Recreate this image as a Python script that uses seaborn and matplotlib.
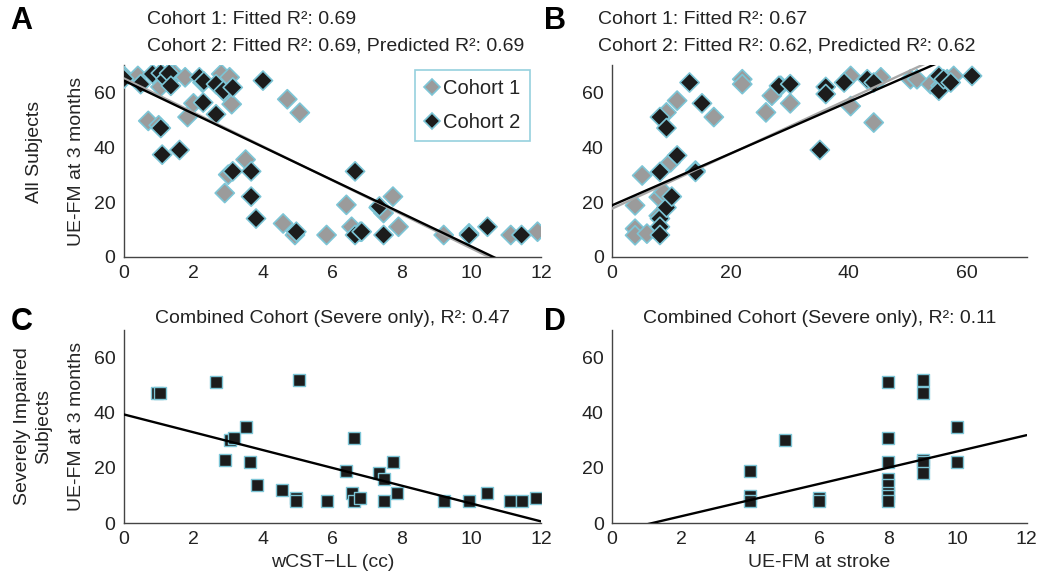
import numpy as np
import pandas as pd
import seaborn as sns
import matplotlib.pyplot as plt

# Panel A: wCST-LL (cc) vs UE-FM at 3 months, all subjects
a_c1_x = [0.0, 0.4, 0.7, 1.0, 1.05, 1.35, 1.45, 1.76, 1.83, 2.0, 2.26, 2.8, 2.9, 3.04, 3.1,
          3.0, 2.9, 3.5, 4.7, 5.06, 4.58, 4.92, 5.83, 6.4, 6.55, 6.8, 7.33, 7.47, 7.74, 7.9,
          9.2, 9.93, 11.13, 11.9]
a_c1_y = [66, 66, 49.6, 48, 62, 65, 66.7, 65.5, 51, 56, 63.6, 66.7, 60, 65.5, 55.7,
          30, 23.3, 35.5, 57.5, 52.6, 12.2, 8, 8, 19, 11, 9.2, 18, 16, 22, 11,
          8, 8.6, 8, 9.2]
a_c2_x = [0.0, 0.48, 0.82, 1.06, 1.2, 1.3, 1.35, 1.06, 1.1, 1.6, 2.17, 2.3, 2.28, 2.65, 2.65,
          2.86, 3.13, 3.13, 3.66, 3.66, 3.8, 4.0, 4.96, 6.65, 6.65, 6.84, 7.35, 7.47, 9.93,
          10.46, 11.44]
a_c2_y = [65, 63, 66.7, 67, 65, 67, 62.4, 47, 37.3, 39, 65.5, 64, 56.3, 52, 63,
          60.6, 61.8, 31.2, 31.2, 22, 14, 64.3, 9.2, 31.2, 8, 9.2, 18.4, 8, 8,
          11, 8]

# Panel B: UE-FM at stroke vs UE-FM at 3 months, all subjects
b_c1_x = [3.9, 3.9, 3.9, 5.1, 5.9, 7.9, 7.9, 8.7, 9.2, 9.9, 11, 14.1, 17.2, 22, 22,
          26, 27, 28.5, 30.1, 40.3, 40.3, 44.2, 45.4, 50.4, 51.5, 53.8, 56.6, 57.7, 55.5]
b_c1_y = [18.8, 10.3, 7.9, 29.7, 8.5, 15, 21.8, 23.6, 52.7, 34.5, 57, 31.5, 51, 64.8, 63,
          52.7, 58.8, 62.4, 56, 66, 55, 49, 65.5, 64.8, 64.8, 63, 64.8, 66, 62.4]
b_c2_x = [8.1, 8.1, 8.1, 8.1, 8.1, 9.2, 9.2, 10.1, 11, 13.1, 14.1, 15.2, 28.2, 30.1,
          35.1, 36.1, 36.1, 39.2, 43.1, 44.2, 55.2, 55.2, 56, 57.2, 60.8]
b_c2_y = [51, 31, 14, 11, 8, 47, 18, 22, 37, 63.6, 31, 56, 62.4, 63,
          39, 62, 59.4, 63.6, 64.8, 63.6, 66, 60.6, 64.8, 63.6, 66]

# Panel C: severe only, wCST-LL
c_x = [0.96, 1.04, 2.65, 5.04, 2.92, 3.04, 3.16, 3.5, 3.63, 3.83, 4.56, 4.94, 4.94, 5.83,
       6.39, 6.55, 6.62, 6.62, 6.8, 7.35, 7.47, 7.47, 7.74, 7.87, 9.2, 9.93, 10.46, 11.1,
       11.44, 11.86]
c_y = [47, 47, 51, 52, 23, 30, 31, 35, 22, 14, 12, 9, 8, 8,
       19, 11, 31, 8, 9, 18, 16, 8, 22, 11, 8, 8, 11, 8, 8, 9]

# Panel D: severe only, UE-FM at stroke
d_x = [4, 4, 4, 5, 6, 6, 8, 8, 8, 8, 8, 8, 8, 8, 9, 9, 9, 9, 9, 10, 10]
d_y = [19, 10, 8, 30, 9, 8, 51, 31, 22, 16, 14, 11, 10, 8, 52, 47, 23, 22, 18, 35, 22]

# fitted lines (intercept, slope)
fit_a = {'Cohort 1': (65.1, -6.2), 'Cohort 2': (64.3, -6.05)}
fit_b = {'Cohort 1': (17.6, 1.0), 'Cohort 2': (18.8, 0.944)}
fit_c = (39.4, -3.23)
fit_d = (-3.39, 2.94)

titles_top = ["Cohort 1: Fitted R\u00b2: 0.69\nCohort 2: Fitted R\u00b2: 0.69, Predicted R\u00b2: 0.69",
              "Cohort 1: Fitted R\u00b2: 0.67\nCohort 2: Fitted R\u00b2: 0.62, Predicted R\u00b2: 0.62"]
titles_bottom = ["Combined Cohort (Severe only), R\u00b2: 0.47",
                 "Combined Cohort (Severe only), R\u00b2: 0.11"]

sns.set_style('white')
plt.rcParams['font.family'] = ['Liberation Sans', 'DejaVu Sans']
plt.rcParams['text.color'] = '#222222'

edge = '#7cc5d6'
cols = {'Cohort 1': '#9b9b9b', 'Cohort 2': '#1c1c1c'}
line_cols = {'Cohort 1': '#a8a8a8', 'Cohort 2': '#000000'}

fig = plt.figure(figsize=(10.39, 5.8), dpi=100)
axA = fig.add_axes([0.1193, 0.557, 0.4014, 0.331])
axB = fig.add_axes([0.589, 0.557, 0.399, 0.331])
axC = fig.add_axes([0.1193, 0.098, 0.4014, 0.333])
axD = fig.add_axes([0.589, 0.098, 0.399, 0.333])

dfA = pd.concat([pd.DataFrame({'x': a_c1_x, 'y': a_c1_y, 'cohort': 'Cohort 1'}),
                 pd.DataFrame({'x': a_c2_x, 'y': a_c2_y, 'cohort': 'Cohort 2'})])
dfB = pd.concat([pd.DataFrame({'x': b_c1_x, 'y': b_c1_y, 'cohort': 'Cohort 1'}),
                 pd.DataFrame({'x': b_c2_x, 'y': b_c2_y, 'cohort': 'Cohort 2'})])

for ax, df, fits, xmax in [(axA, dfA, fit_a, 12), (axB, dfB, fit_b, 70)]:
    sns.scatterplot(data=df, x='x', y='y', hue='cohort', palette=cols, marker='D',
                    s=95, edgecolor=edge, linewidth=1.2, ax=ax, legend=(ax is axA), zorder=3)
    xs = np.array([0, xmax])
    for name, (b0, b1) in fits.items():
        sns.lineplot(x=xs, y=b0 + b1 * xs, color=line_cols[name], lw=1.7, ax=ax, zorder=4)

sns.scatterplot(x=c_x, y=c_y, marker='s', s=70, color='#1c1c1c', edgecolor=edge,
                linewidth=1.0, ax=axC, zorder=3)
sns.scatterplot(x=d_x, y=d_y, marker='s', s=70, color='#1c1c1c', edgecolor=edge,
                linewidth=1.0, ax=axD, zorder=3)
xs = np.array([0, 12])
sns.lineplot(x=xs, y=fit_c[0] + fit_c[1] * xs, color='black', lw=1.7, ax=axC, zorder=4)
sns.lineplot(x=xs, y=fit_d[0] + fit_d[1] * xs, color='black', lw=1.7, ax=axD, zorder=4)

for ax in [axA, axB, axC, axD]:
    ax.set_ylim(0, 70)
    ax.set_yticks([0, 20, 40, 60])
    for s in ['top', 'right']:
        ax.spines[s].set_visible(False)
    for s in ['left', 'bottom']:
        ax.spines[s].set_color('#444444')
        ax.spines[s].set_linewidth(1.0)
    ax.tick_params(direction='in', length=4, width=0.8, colors='#444444',
                   labelsize=14, labelcolor='#222222', pad=6)
    ax.set_xlabel('')
    ax.set_ylabel('')

for ax in [axA, axC, axD]:
    ax.set_xlim(0, 12)
    ax.set_xticks(range(0, 13, 2))
axB.set_xlim(0, 70)
axB.set_xticks([0, 20, 40, 60])

axC.set_xlabel('wCST\u2212LL (cc)', fontsize=14, labelpad=4)
axD.set_xlabel('UE-FM at stroke', fontsize=14, labelpad=4)

for ax in [axA, axC]:
    ax.set_ylabel('UE-FM at 3 months', fontsize=14, labelpad=6)
fig.text(0.033, 0.738, 'All Subjects', rotation=90, fontsize=14, ha='center', va='center')
fig.text(0.032, 0.265, 'Severely Impaired\nSubjects', rotation=90, fontsize=14,
         ha='center', va='center', linespacing=1.35)

fig.text(0.1415, 0.981, titles_top[0], fontsize=14, ha='left', va='top', linespacing=1.7)
fig.text(0.5755, 0.981, titles_top[1], fontsize=14, ha='left', va='top', linespacing=1.7)
axC.set_title(titles_bottom[0], fontsize=14, pad=5)
axD.set_title(titles_bottom[1], fontsize=14, pad=5)

for lbl, x, y in [('A', 0.01, 0.99), ('B', 0.524, 0.99), ('C', 0.01, 0.47), ('D', 0.524, 0.47)]:
    fig.text(x, y, lbl, fontsize=22, fontweight='bold', ha='left', va='top', color='black')

leg = axA.legend(loc='upper left', bbox_to_anchor=(0.698, 0.975), borderaxespad=0,
                 fontsize=14.5, frameon=True, fancybox=False, handletextpad=0.15,
                 borderpad=0.45, labelspacing=0.75, handlelength=0.8, markerscale=0.8)
leg.get_frame().set_edgecolor(edge)
leg.get_frame().set_linewidth(1.2)

fig.savefig('out.png', dpi=100)
